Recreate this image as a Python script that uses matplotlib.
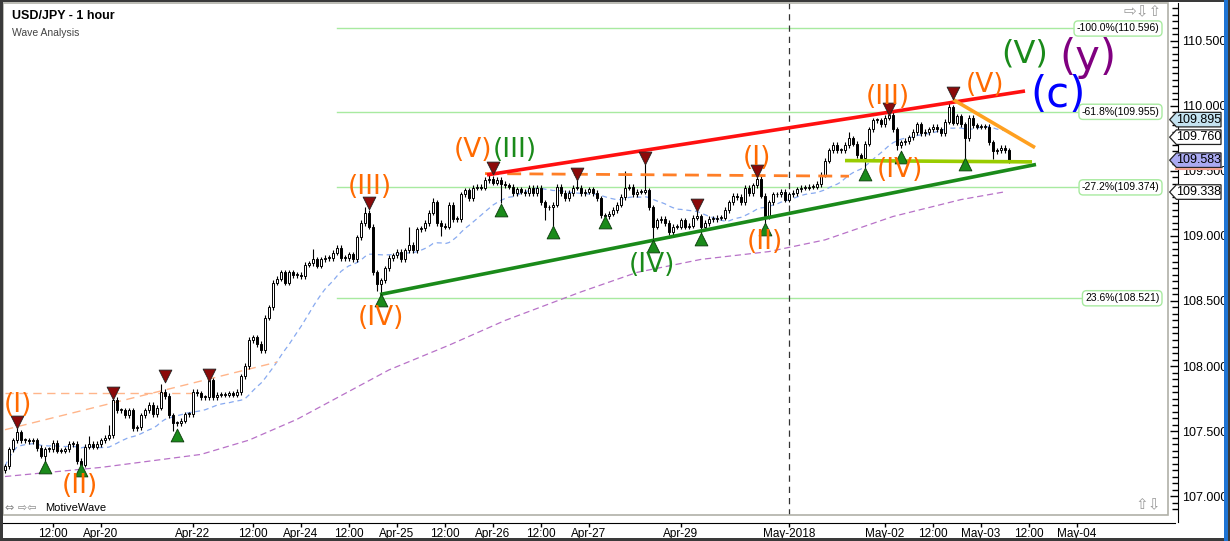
import matplotlib
matplotlib.use('Agg')
import matplotlib.pyplot as plt
import numpy as np
import pandas as pd
from matplotlib.patches import Rectangle, Polygon

plt.rcParams['font.family'] = ['Liberation Sans', 'DejaVu Sans']

# ---------------- data ----------------
closes = [
    107.23, 107.36, 107.43, 107.49, 107.43, 107.43, 107.42, 107.43, 107.37, 107.31,
    107.36, 107.36, 107.41, 107.35, 107.35, 107.36, 107.40, 107.40, 107.27, 107.24,
    107.38, 107.40, 107.38, 107.40, 107.43, 107.45, 107.47, 107.74, 107.66, 107.66,
    107.62, 107.66, 107.52, 107.53, 107.62, 107.66, 107.70, 107.63, 107.68, 107.80,
    107.77, 107.62, 107.56, 107.56, 107.58, 107.63, 107.63, 107.80, 107.79, 107.76,
    107.76, 107.89, 107.76, 107.78, 107.78, 107.78, 107.79, 107.78, 107.80, 107.92,
    108.00, 108.20, 108.22, 108.17, 108.12, 108.37, 108.45, 108.64, 108.67, 108.72,
    108.64, 108.72, 108.70, 108.70, 108.69, 108.78, 108.79, 108.82, 108.77, 108.82,
    108.83, 108.83, 108.87, 108.91, 108.83, 108.83, 108.86, 108.82, 108.99, 109.10,
    109.18, 109.07, 108.72, 108.63, 108.66, 108.75, 108.83, 108.85, 108.88, 108.82,
    108.89, 108.93, 108.89, 109.05, 109.06, 109.10, 109.18, 109.26, 109.10, 109.08,
    109.07, 109.24, 109.13, 109.13, 109.32, 109.35, 109.29, 109.37, 109.38, 109.37,
    109.43, 109.44, 109.41, 109.43, 109.40, 109.39, 109.38, 109.33, 109.36, 109.34,
    109.33, 109.37, 109.33, 109.37, 109.26, 109.22, 109.22, 109.24, 109.38, 109.33,
    109.29, 109.33, 109.37, 109.37, 109.33, 109.34, 109.36, 109.33, 109.29, 109.16,
    109.15, 109.17, 109.20, 109.24, 109.30, 109.37, 109.38, 109.32, 109.34, 109.34,
    109.35, 109.22, 109.07, 109.12, 109.13, 109.10, 109.03, 109.07, 109.07, 109.12,
    109.07, 109.08, 109.14, 109.15, 109.07, 109.10, 109.13, 109.13, 109.14, 109.14,
    109.20, 109.26, 109.31, 109.30, 109.26, 109.37, 109.33, 109.39, 109.44, 109.31,
    109.15, 109.26, 109.32, 109.32, 109.34, 109.28, 109.32, 109.33, 109.36, 109.37,
    109.37, 109.38, 109.38, 109.40, 109.47, 109.58, 109.66, 109.70, 109.66, 109.66,
    109.70, 109.75, 109.71, 109.62, 109.60, 109.71, 109.82, 109.89, 109.89, 109.86,
    109.91, 109.93, 109.82, 109.70, 109.72, 109.73, 109.76, 109.80, 109.86, 109.79,
    109.80, 109.82, 109.84, 109.82, 109.79, 109.88, 109.99, 109.87, 109.92, 109.86,
    109.75, 109.91, 109.85, 109.84, 109.84, 109.84, 109.72, 109.65, 109.66, 109.68,
    109.66, 109.583,
]
first_open = 107.20
wick = 0.02
high_over = {3: 107.53, 21: 107.46, 26: 107.55, 27: 107.78, 39: 107.86, 51: 107.91,
             77: 108.90, 90: 109.22, 101: 109.07, 121: 109.48, 143: 109.43,
             155: 109.50, 160: 109.56, 173: 109.20, 188: 109.46, 221: 109.96,
             236: 110.04, 107: 109.29, 211: 109.80}
low_over = {10: 107.26, 19: 107.22, 42: 107.50, 93: 108.58, 94: 108.55, 109: 109.00,
            124: 109.25, 135: 109.12, 137: 109.08, 150: 109.14, 162: 108.96,
            174: 109.02, 190: 109.08, 215: 109.52, 223: 109.66, 240: 109.59,
            247: 109.59}

# long moving average (purple), read at sample bars
purple_bars = [0, 24, 49, 61, 73, 96, 111, 125, 144, 158, 174, 191, 205, 222, 239, 250]
purple_vals = [107.15, 107.22, 107.32, 107.43, 107.59, 107.97, 108.16, 108.35, 108.57,
               108.72, 108.82, 108.88, 108.97, 109.15, 109.28, 109.34]

tick_bars = [12, 24, 47, 62, 74, 86, 98, 110, 122, 134, 146, 169, 196, 220, 232, 244, 256, 268]
tick_labels = ['12:00', 'Apr-20', 'Apr-22', '12:00', 'Apr-24', '12:00', 'Apr-25', '12:00',
               'Apr-26', '12:00', 'Apr-27', 'Apr-29', 'May-2018', 'May-02', '12:00',
               'May-03', '12:00', 'May-04']

red_mark_bars = [3, 27, 40, 51, 91, 122, 143, 160, 173, 188, 221, 237]
red_mark_vals = [107.57, 107.79, 107.92, 107.93, 109.25, 109.52, 109.48, 109.60, 109.24,
                 109.50, 109.98, 110.10]
green_mark_bars = [10, 19, 43, 94, 124, 137, 150, 162, 174, 190, 215, 224, 240]
green_mark_vals = [107.22, 107.20, 107.47, 108.51, 109.20, 109.03, 109.11, 108.92, 108.98,
                   109.05, 109.48, 109.61, 109.55]

fib_levels = [110.596, 109.955, 109.374, 108.521]
fib_labels = ['-100.0%(110.596)', '-61.8%(109.955)', '-27.2%(109.374)', '23.6%(108.521)']
fib_start = 83

wave_labels = [
    ('(I)', 3.25, 107.70, '#ff6a00', 19), ('(II)', 18.75, 107.08, '#ff6a00', 19),
    ('(III)', 91.2, 109.38, '#ff6a00', 19), ('(IV)', 94.0, 108.37, '#ff6a00', 19),
    ('(V)', 117.0, 109.66, '#ff6a00', 19), ('(III)', 127.5, 109.66, '#1a8a1a', 19),
    ('(IV)', 161.75, 108.78, '#1a8a1a', 19), ('(I)', 188.0, 109.60, '#ff6a00', 19),
    ('(II)', 190.0, 108.95, '#ff6a00', 19), ('(III)', 220.75, 110.07, '#ff6a00', 19),
    ('(IV)', 223.75, 109.51, '#ff6a00', 19), ('(V)', 245.0, 110.16, '#ff6a00', 19),
    ('(V)', 255.0, 110.40, '#1a8a1a', 23), ('(c)', 263.25, 110.085, '#0000ff', 30),
    ('(y)', 270.75, 110.37, '#800080', 30),
]

price_tags = [109.895, 109.760, 109.583, 109.338]
tag_fill = ['#c4e2f0', '#ffffff', '#aaaaf2', '#ffffff']

# trend lines (bar, price) pairs
red_line = ([120.5, 255.0], [109.47, 110.115])
green_line = ([93.75, 257.75], [108.55, 109.55])
orange_dash = ([120.0, 211.0], [109.48, 109.46])
yg_line = ([210.0, 256.75], [109.58, 109.57])
orange_line = ([237.0, 257.5], [110.05, 109.68])
lo_hline = ([0.0, 49.0], [107.79, 107.79])
lo_slope = ([0.0, 68.0], [107.51, 108.03])
may_bar = 196

# ---------------- figure ----------------
W, H = 1230, 541
fig = plt.figure(figsize=(W / 100, H / 100), dpi=100)
fig.patch.set_facecolor('white')
ax = fig.add_axes([3 / W, 1 - 515 / H, (1168 - 3) / W, (515 - 3) / H])
ax.set_facecolor('white')
xmin, xmax = -0.5, 290.75
ymin, ymax = 106.854, 110.792
ax.set_xlim(xmin, xmax)
ax.set_ylim(ymin, ymax)

n = len(closes)
idx = np.arange(n)
c = np.array(closes)
o = np.array([first_open] + closes[:-1])
hi = np.maximum(o, c) + wick
lo = np.minimum(o, c) - wick
for k, v in high_over.items():
    hi[k] = max(v, max(o[k], c[k]))
for k, v in low_over.items():
    lo[k] = min(v, min(o[k], c[k]))

# fib lines
for lev, lab in zip(fib_levels, fib_labels):
    ax.plot([fib_start, 286], [lev, lev], color='#a8eaa0', lw=1, zorder=1)
    ax.text(288.6, lev, lab, ha='right', va='center', fontsize=7.5, color='black', zorder=6,
            bbox=dict(boxstyle='round,pad=0.25,rounding_size=0.4', fc='white', ec='#a8eaa0', lw=1))

# vertical dashed
ax.axvline(may_bar, color='#333333', lw=0.9, ls=(0, (5, 4)), zorder=1)

# moving averages
ma = pd.Series(closes).rolling(20, min_periods=1).mean()
ax.plot(idx[:-1], ma.values[:-1], color='#88aaf0', lw=0.9, ls=(0, (4, 3)), zorder=2)
ax.plot(purple_bars, purple_vals, color='#b872c8', lw=0.9, ls=(0, (5, 3)), zorder=2)

# light orange lines at the left
ax.plot(*lo_hline, color='#ffb58a', lw=1, ls=(0, (6, 4)), zorder=2)
ax.plot(*lo_slope, color='#ffb58a', lw=1, ls=(0, (6, 4)), zorder=2)

# candles
ax.vlines(idx, lo, hi, color='black', lw=0.8, zorder=3)
up = c >= o
bottom = np.minimum(o, c)
height = np.maximum(np.abs(c - o), 0.006)
ax.bar(idx[up], height[up], bottom=bottom[up], width=0.72, color='white',
       edgecolor='black', lw=0.7, zorder=4)
ax.bar(idx[~up], height[~up], bottom=bottom[~up], width=0.72, color='black',
       edgecolor='black', lw=0.7, zorder=4)

# trend lines
ax.plot(*orange_dash, color='#ff7f27', lw=2, ls=(0, (5, 3)), zorder=5)
ax.plot(*red_line, color='#ff1010', lw=2.6, zorder=5, solid_capstyle='butt')
ax.plot(*green_line, color='#1a8a1a', lw=2.6, zorder=5, solid_capstyle='butt')
ax.plot(*yg_line, color='#99cc00', lw=2.6, zorder=5, solid_capstyle='butt')
ax.plot(*orange_line, color='#ffa020', lw=2.6, zorder=5, solid_capstyle='butt')

# swing markers
ax.scatter(red_mark_bars, red_mark_vals, marker='v', s=85, color='#8b0a0a',
           edgecolor='#222222', lw=0.6, zorder=6)
ax.scatter(green_mark_bars, green_mark_vals, marker='^', s=85, color='#1a8a1a',
           edgecolor='#0a3a0a', lw=0.6, zorder=6)

# wave labels
for txt, xb, yp, col, fs in wave_labels:
    ax.text(xb, yp, txt, color=col, fontsize=fs, ha='center', va='center',
            family=['DejaVu Sans'], zorder=7)

# axes styling
for s in ['left', 'top']:
    ax.spines[s].set_visible(False)
ax.spines['right'].set_position(('outward', 7))
ax.spines['bottom'].set_position(('outward', 6))
ax.spines['right'].set_color('black')
ax.spines['bottom'].set_color('black')
ax.spines['bottom'].set_bounds(xmin, xmax + 1.75)
ax.spines['right'].set_bounds(ymin - 0.05, ymax)
ax.add_patch(Rectangle((0, 0), 1, 1, transform=ax.transAxes, fill=False,
                       ec='#b0b0a8', lw=1.2, clip_on=False, zorder=8))

ax.yaxis.tick_right()
ax.set_yticks(np.arange(107.0, 110.51, 0.5))
ax.set_yticklabels(['%.3f' % v for v in np.arange(107.0, 110.51, 0.5)])
ax.set_yticks(np.arange(106.9, 110.8, 0.05), minor=True)
ax.tick_params(axis='y', which='major', direction='in', length=6, width=1, labelsize=9, pad=3)
ax.tick_params(axis='y', which='minor', direction='in', length=4, width=1)
ax.set_xticks(tick_bars)
ax.set_xticklabels(tick_labels)
ax.tick_params(axis='x', which='major', direction='out', length=3, width=1, labelsize=8.5, pad=0.5)

# price tags on the right axis
for val, fc in zip(price_tags, tag_fill):
    tr = ax.get_yaxis_transform()
    x0, x1, x2 = 1.0014, 1.0072, 1.0455
    hh = 0.056
    poly = Polygon([[x0, val], [x1, val + hh], [x2, val + hh], [x2, val - hh], [x1, val - hh]],
                   closed=True, transform=tr, fc=fc, ec='#222222', lw=0.9, clip_on=False, zorder=9)
    ax.add_patch(poly)
    ax.text(1.0263, val, '%.3f' % val, transform=tr, ha='center', va='center', fontsize=9,
            color='black', clip_on=False, zorder=10)
    if val == 109.583:
        ax.plot([x1, x2], [val - hh - 0.01, val - hh - 0.01], transform=tr, color='#f0a090',
                lw=1.5, clip_on=False, zorder=9)

# titles and icons
fig.text(12 / W, 1 - 16 / H, 'USD/JPY - 1 hour', fontsize=9, fontweight='bold', va='center')
fig.text(12 / W, 1 - 33 / H, 'Wave Analysis', fontsize=7.5, color='#444444', va='center')
fig.text(1123 / W, 1 - 12 / H, '\u21e8\u21e9\u21e7', fontsize=11, color='#999999', va='center',
         family=['DejaVu Sans'])
fig.text(1135 / W, 1 - 505 / H, '\u21e7\u21e9', fontsize=11, color='#999999', va='center',
         family=['DejaVu Sans'])
fig.text(5 / W, 1 - 508 / H, '\u21d4 \u21e8\u21e6', fontsize=8, color='#888888', va='center',
         family=['DejaVu Sans'])
fig.text(45 / W, 1 - 508 / H, 'MotiveWave', fontsize=8, color='black', va='center')

# window borders
def frect(x, y, w, h, col):
    fig.add_artist(Rectangle((x / W, 1 - (y + h) / H), w / W, h / H, transform=fig.transFigure,
                             fc=col, ec='none', zorder=20))

frect(0, 0, 3, H, '#3a3a3a')
frect(0, 0, W, 2, '#3a3a3a')
frect(0, H - 3, W, 3, '#3a3a3a')
frect(1224, 0, 4, H, '#1e73d2')
frect(1228, 0, 2, H, '#3a3a3a')

fig.savefig('out.png', dpi=100, facecolor='white')
